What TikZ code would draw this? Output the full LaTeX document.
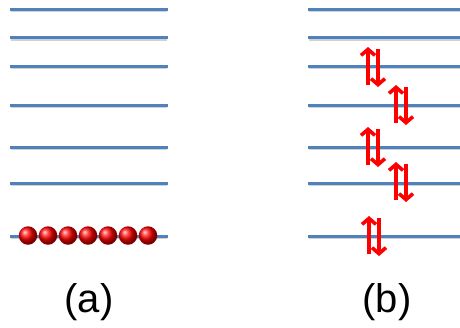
\documentclass[tikz,border=0pt]{standalone}
\usepackage{fontspec}
\setmainfont{Liberation Sans}
\usetikzlibrary{arrows.meta,shadings}
\definecolor{lev}{RGB}{79,129,189}
\definecolor{spinred}{RGB}{255,0,0}
\tikzset{
  level/.style={draw=lev,line width=3pt},
  levshadow/.style={draw=black!18,line width=2.5pt},
  spin/.style={draw=spinred,line width=3.6pt,-{Straight Barb[length=6pt,width=14pt]}},
  electron/.style={circle,minimum size=18.5pt,inner sep=0pt,shading=ball,ball color=spinred},
  lbl/.style={font=\fontsize{40}{48}\selectfont,anchor=base,inner sep=0pt}
}
\begin{document}
\begin{tikzpicture}[x=1pt,y=-1pt]
\useasboundingbox (0,0) rectangle (460,327);
% levels
\foreach \yy in {9,37.5,66,105,147,183,236}{
  \draw[levshadow] (11,\yy+2) -- (167,\yy+2);
  \draw[levshadow] (309,\yy+2) -- (460,\yy+2);
  \draw[level] (10,\yy) -- (168,\yy);
  \draw[level] (308,\yy) -- (460,\yy);
}
% electrons (a)
\foreach \i/\xx in {1/28,2/48,3/68,4/88,5/108,6/128,7/148}{
  \node[electron] (e\i) at (\xx,235.5) {};
}
% spin pairs (b)
\foreach \k/\xx/\cc in {1/368/66,2/396/104,3/368/146,4/396/181,5/369/235}{
  \coordinate (u\k s) at (\xx,\cc+19);
  \coordinate (u\k e) at (\xx,\cc-19);
  \coordinate (d\k s) at (\xx+10,\cc-17);
  \coordinate (d\k e) at (\xx+10,\cc+21);
  \draw[spin] (u\k s) -- (u\k e);
  \draw[spin] (d\k s) -- (d\k e);
}
\node[lbl] (la) at (89,312) {(a)};
\node[lbl] (lb) at (387,312) {(b)};
\end{tikzpicture}
\end{document}
